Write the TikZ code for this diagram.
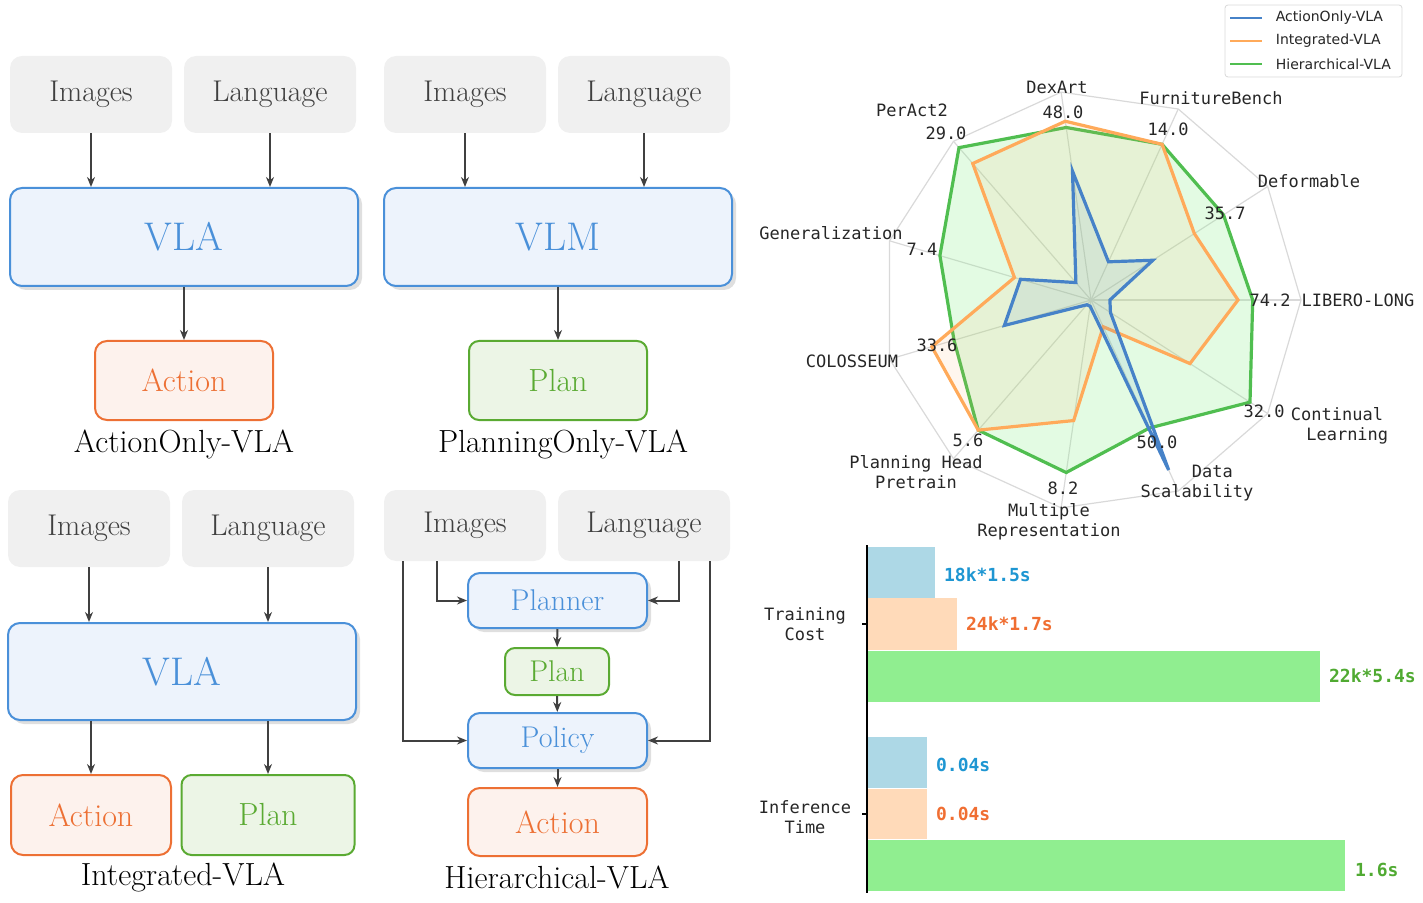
\documentclass[tikz,border=0pt]{standalone}
\usepackage{fontspec}
\newfontfamily\monofont{DejaVu Sans Mono}
\newfontfamily\legfont{DejaVu Sans}
\usetikzlibrary{positioning,shadows,arrows.meta}
\definecolor{boxgray}{RGB}{240,240,240}
\definecolor{vlablue}{RGB}{74,144,217}
\definecolor{vlafill}{RGB}{237,243,252}
\definecolor{actorange}{RGB}{237,112,52}
\definecolor{actfill}{RGB}{253,242,237}
\definecolor{plangreen}{RGB}{90,170,50}
\definecolor{planfill}{RGB}{236,245,230}
\definecolor{arrowgray}{RGB}{64,64,64}
\definecolor{rbl}{RGB}{70,130,200}
\definecolor{ror}{RGB}{255,170,90}
\definecolor{rgr}{RGB}{80,190,80}
\definecolor{barblue}{RGB}{173,216,230}
\definecolor{barorange}{RGB}{255,218,185}
\definecolor{bargreen}{RGB}{144,238,144}
\definecolor{txtblue}{RGB}{30,150,210}
\definecolor{txtorange}{RGB}{240,110,50}
\definecolor{txtgreen}{RGB}{80,170,50}
\tikzset{
  input/.style={fill=boxgray,rounded corners=6pt,font=\fontsize{15}{18}\selectfont,text=black!75},
  model/.style={draw=vlablue,line width=1pt,fill=vlafill,rounded corners=6pt,text=vlablue,drop shadow={opacity=0.25,shadow xshift=2pt,shadow yshift=-2pt}},
  act/.style={draw=actorange,line width=1pt,fill=actfill,rounded corners=6pt,text=actorange,font=\fontsize{16}{19}\selectfont},
  plan/.style={draw=plangreen,line width=1pt,fill=planfill,rounded corners=5pt,text=plangreen,font=\fontsize{16}{19}\selectfont},
  caption/.style={font=\fontsize{16}{19}\selectfont},
  flow/.style={-{Stealth[length=5pt,width=4pt]},line width=1pt,draw=arrowgray},
  radlab/.style={font=\monofont\fontsize{8.5}{10}\selectfont,text=black!85,align=center},
  barlab/.style={font=\monofont\bfseries\fontsize{9}{11}\selectfont},
}
\begin{document}
\begin{tikzpicture}[x=0.5pt,y=-0.5pt]
\useasboundingbox (0,0) rectangle (1423,903);

% ActionOnly
\node[input,minimum width=81pt,minimum height=38.5pt] (img1) at (91,94.5) {Images};
\node[input,minimum width=86pt,minimum height=38.5pt] (lang1) at (270,94.5) {Language};
\node[model,minimum width=174pt,minimum height=49pt,font=\fontsize{20}{24}\selectfont] (vla1) at (184,237) {VLA};
\node[act,minimum width=89pt,minimum height=39.5pt] (act1) at (184,380.5) {Action};
\node[caption] (cap1) at (184,444) {ActionOnly-VLA};
\draw[flow] (img1.south) -- (img1.south |- vla1.north);
\draw[flow] (lang1.south) -- (lang1.south |- vla1.north);
\draw[flow] (vla1.south) -- (act1.north);

% PlanningOnly
\node[input,minimum width=81pt,minimum height=38.5pt] (img2) at (465,94.5) {Images};
\node[input,minimum width=86pt,minimum height=38.5pt] (lang2) at (644,94.5) {Language};
\node[model,minimum width=174pt,minimum height=49pt,font=\fontsize{20}{24}\selectfont] (vlm2) at (558,237) {VLM};
\node[plan,minimum width=89pt,minimum height=39.5pt] (plan2) at (558,380.5) {Plan};
\node[caption] (cap2) at (563,444) {PlanningOnly-VLA};
\draw[flow] (img2.south) -- (img2.south |- vlm2.north);
\draw[flow] (lang2.south) -- (lang2.south |- vlm2.north);
\draw[flow] (vlm2.south) -- (plan2.north);

% Integrated
\node[input,minimum width=81pt,minimum height=38.5pt] (img3) at (89,528.5) {Images};
\node[input,minimum width=86pt,minimum height=38.5pt] (lang3) at (268,528.5) {Language};
\node[model,minimum width=174pt,minimum height=48.5pt,font=\fontsize{20}{24}\selectfont] (vla3) at (182,671.5) {VLA};
\node[act,minimum width=80pt,minimum height=40pt] (act3) at (91,815) {Action};
\node[plan,minimum width=86.5pt,minimum height=40pt] (plan3) at (268,815) {Plan};
\node[caption] (cap3) at (183,877) {Integrated-VLA};
\draw[flow] (img3.south) -- (img3.south |- vla3.north);
\draw[flow] (lang3.south) -- (lang3.south |- vla3.north);
\draw[flow] (act3.north |- vla3.south) -- (act3.north);
\draw[flow] (plan3.north |- vla3.south) -- (plan3.north);

% Hierarchical
\node[input,minimum width=81pt,minimum height=35.5pt] (img4) at (465,525.5) {Images};
\node[input,minimum width=86pt,minimum height=35.5pt] (lang4) at (644,525.5) {Language};
\node[model,minimum width=89.5pt,minimum height=27.5pt,font=\fontsize{15}{18}\selectfont] (planner) at (557.5,600.5) {Planner};
\node[plan,minimum width=52pt,minimum height=23.5pt,font=\fontsize{15}{18}\selectfont] (plan4) at (557,671.5) {Plan};
\node[model,minimum width=89.5pt,minimum height=27.5pt,font=\fontsize{15}{18}\selectfont] (policy) at (557.5,740.5) {Policy};
\node[act,minimum width=89.5pt,minimum height=34pt] (act4) at (557.5,822) {Action};
\node[caption] (cap4) at (557,877) {Hierarchical-VLA};
\coordinate (il) at (437,561);
\coordinate (io) at (403,561);
\coordinate (ll) at (679,561);
\coordinate (lo) at (710,561);
\draw[flow] (il) |- (planner.west);
\draw[flow] (ll) |- (planner.east);
\draw[flow] (io) |- (policy.west);
\draw[flow] (lo) |- (policy.east);
\draw[flow] (planner) -- (plan4);
\draw[flow] (plan4) -- (policy);
\draw[flow] (policy) -- (act4);

% radar chart
\begin{scope}[shift={(1091,300)},y=0.5pt]
\def\R{210}
\foreach \i in {0,...,10}
  \coordinate (o\i) at ({\i*360/11}:\R);
\draw[black!15,line width=0.6pt] (o0) \foreach \i in {1,...,10} {-- (o\i)} -- cycle;
\foreach \i in {0,...,10}
  \draw[black!15,line width=0.6pt] (0,0) -- (o\i);
\foreach \v [count=\i from 0] in {0.77,0.75,0.815,0.83,0.96,0.75,0.68,0.82,0.83,0.67,0.90}
  \coordinate (g\i) at ({\i*360/11}:{\v*\R});
\foreach \v [count=\i from 0] in {0.70,0.585,0.815,0.86,0.86,0.38,0.79,0.82,0.58,0.14,0.56}
  \coordinate (r\i) at ({\i*360/11}:{\v*\R});
\foreach \v [count=\i from 0] in {0.09,0.35,0.2,0.62,0.11,0.35,0.43,0.03,0.03,0.89,0.11}
  \coordinate (b\i) at ({\i*360/11}:{\v*\R});
\filldraw[draw=rgr,fill=bargreen,fill opacity=0.25,line width=1.6pt] (g0) \foreach \i in {1,...,10} {-- (g\i)} -- cycle;
\filldraw[draw=ror,fill=ror,fill opacity=0.1,line width=1.6pt] (r0) \foreach \i in {1,...,10} {-- (r\i)} -- cycle;
\filldraw[draw=rbl,fill=rbl,fill opacity=0.1,line width=1.6pt] (b0) \foreach \i in {1,...,10} {-- (b\i)} -- cycle;
\end{scope}
\node[radlab] (vDex) at (1063,112) {48.0};
\node[radlab] (vFur) at (1168,129) {14.0};
\node[radlab] (vDef) at (1225,213) {35.7};
\node[radlab] (vLib) at (1270,300) {74.2};
\node[radlab] (vCon) at (1264,411) {32.0};
\node[radlab] (vDat) at (1157,442) {50.0};
\node[radlab] (vMul) at (1063,488) {8.2};
\node[radlab] (vPla) at (968,440) {5.6};
\node[radlab] (vCol) at (937,345) {33.6};
\node[radlab] (vGen) at (922,249) {7.4};
\node[radlab] (vPer) at (946,133) {29.0};
\node[radlab] (lDex) at (1057,87) {DexArt};
\node[radlab] (lFur) at (1211,98) {FurnitureBench};
\node[radlab] (lDef) at (1309,181) {Deformable};
\node[radlab] (lLib) at (1358,300) {LIBERO-LONG};
\node[radlab] (lCon) at (1337,426) {Continual\\\ \ Learning};
\node[radlab] (lDat) at (1197,483) {\ \ \ Data\\Scalability};
\node[radlab] (lMul) at (1049,522) {Multiple\\Representation};
\node[radlab] (lPla) at (916,472) {Planning Head\\Pretrain};
\node[radlab] (lCol) at (852,361) {COLOSSEUM};
\node[radlab] (lGen) at (831,233) {Generalization};
\node[radlab] (lPer) at (912,110) {PerAct2};

% legend
\node[draw=black!15,rounded corners=1.5pt,fill=white,minimum width=88.5pt,minimum height=36pt] (legend) at (1313.5,41) {};
\coordinate (la) at (1230,18);
\coordinate (lb) at (1230,41);
\coordinate (lc) at (1230,64);
\draw[rbl,line width=1.2pt] (la) -- ++(32,0) node[right=3pt,text=black!85,font=\legfont\fontsize{7}{8}\selectfont] (legA) {ActionOnly-VLA};
\draw[ror,line width=1.2pt] (lb) -- ++(32,0) node[right=3pt,text=black!85,font=\legfont\fontsize{7}{8}\selectfont] (legB) {Integrated-VLA};
\draw[rgr,line width=1.2pt] (lc) -- ++(32,0) node[right=3pt,text=black!85,font=\legfont\fontsize{7}{8}\selectfont] (legC) {Hierarchical-VLA};

% bar chart
\fill[barblue] (867,547) rectangle (935,598);
\fill[barorange] (867,598) rectangle (957,650);
\fill[bargreen] (867,651) rectangle (1320,702);
\fill[barblue] (867,737) rectangle (927,788);
\fill[barorange] (867,789) rectangle (927,839);
\fill[bargreen] (867,840) rectangle (1345,891);
\draw[black,line width=0.8pt] (867,545) -- (867,893);
\draw[black,line width=0.8pt] (862,624) -- (867,624) (862,814) -- (867,814);
\node[barlab,text=txtblue,anchor=west] (tb) at (937,575) {18k*1.5s};
\node[barlab,text=txtorange,anchor=west] (to) at (959,624) {24k*1.7s};
\node[barlab,text=txtgreen,anchor=west] (tg) at (1322,676) {22k*5.4s};
\node[barlab,text=txtblue,anchor=west] (ib) at (929,765) {0.04s};
\node[barlab,text=txtorange,anchor=west] (io2) at (929,814) {0.04s};
\node[barlab,text=txtgreen,anchor=west] (ig) at (1348,870) {1.6s};
\node[radlab] (train) at (805,624) {Training\\Cost};
\node[radlab] (infer) at (805,817) {Inference\\Time};
\end{tikzpicture}
\end{document}
